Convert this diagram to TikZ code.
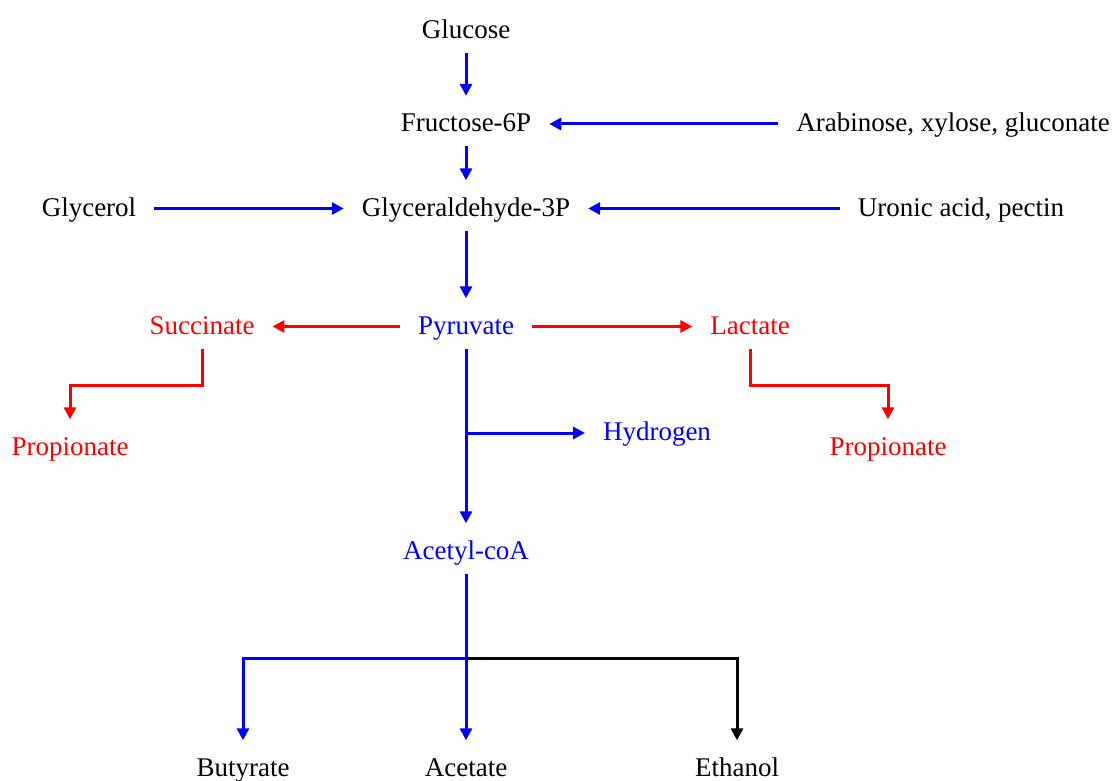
\documentclass[tikz,border=0pt]{standalone}
\usepackage{fontspec}
\setmainfont{Liberation Serif}
\usepackage{tikz}
\usetikzlibrary{arrows.meta,positioning,calc}

\begin{document}
\begin{tikzpicture}[x=0.5pt, y=-0.5pt,
  every node/.style={font=\fontsize{13.5}{16}\selectfont, inner sep=0pt, outer xsep=9pt, outer ysep=6.5pt, text height=0.7em+1.5pt, text depth=0.22em-1.5pt},
  flow/.style={line width=1.5pt, -{Triangle[length=6pt,width=6pt]}},
  down/.style={shorten >=3pt}]
  \useasboundingbox (0,0) rectangle (1114,781);
  % main column
  \node (glucose) at (466, 30.5) {Glucose};
  \node (fructose) at (466, 124) {Fructose-6P};
  \node (gap) at (466, 208.5) {Glyceraldehyde-3P};
  \node[blue] (pyruvate) at (466, 326.5) {Pyruvate};
  \node[blue] (acetyl) at (466, 551.5) {Acetyl-coA};
  % side inputs
  \node (arabinose) at (953, 124) {Arabinose, xylose, gluconate};
  \node (glycerol) at (89, 208.5) {Glycerol};
  \node (uronic) at (961, 208.5) {Uronic acid, pectin};
  % red branches
  \node[red] (succinate) at (202, 326.5) {Succinate};
  \node[red] (lactate) at (750, 326.5) {Lactate};
  \node[red] (propL) at (70, 447.5) {Propionate};
  \node[red] (propR) at (888, 447.5) {Propionate};
  \node[blue] (hydrogen) at (657, 433) {Hydrogen};
  % end products
  \node (butyrate) at (243, 768.5) {Butyrate};
  \node (acetate) at (466, 768.5) {Acetate};
  \node (ethanol) at (737, 768.5) {Ethanol};
  \coordinate (hjoin) at (466, 433);
  \coordinate (split) at (466, 658);

  \draw[flow, down, blue] (glucose) -- (fructose);
  \draw[flow, down, blue] (fructose) -- (gap);
  \draw[flow, down, blue] (gap) -- (pyruvate);
  \draw[flow, blue] (arabinose) -- (fructose);
  \draw[flow, blue] (glycerol) -- (gap);
  \draw[flow, blue] (uronic) -- (gap);
  \draw[flow, red] (pyruvate) -- (succinate);
  \draw[flow, red] (pyruvate) -- (lactate);
  \draw[flow, down, red] (succinate) -- (succinate |- 0,385) -| (propL);
  \draw[flow, down, red] (lactate) -- (lactate |- 0,385) -| (propR);
  \draw[flow, down, blue] (pyruvate) -- (acetyl);
  \draw[flow, blue] (hjoin) -- (hydrogen);
  % acetyl-coA split
  \draw[flow, down, black] (split) -| (ethanol);
  \draw[flow, down, blue] (split) -| (butyrate);
  \draw[flow, down, blue] (acetyl) -- (acetate);
\end{tikzpicture}
\end{document}
